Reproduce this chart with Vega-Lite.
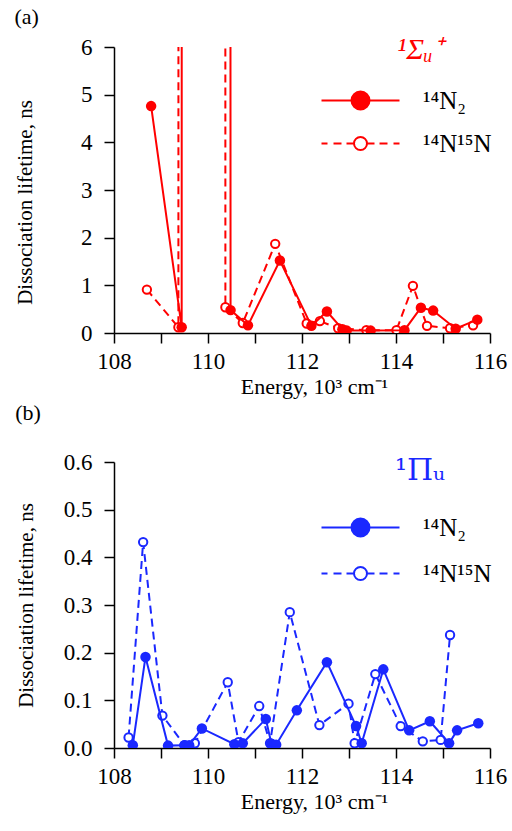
{
  "$schema": "https://vega.github.io/schema/vega-lite/v6.json",
  "padding": {"left": 14, "top": 6, "right": 5, "bottom": 5},
  "spacing": 5,
  "background": "white",
  "config": {
    "view": {"stroke": null},
    "font": "Liberation Serif",
    "axis": {
      "domainColor": "black", "domainWidth": 1.5, "tickColor": "black", "tickWidth": 1.5,
      "tickSize": 10, "labelFont": "Liberation Serif", "labelFontSize": 23, "labelColor": "black",
      "titleFont": "Liberation Serif", "titleFontSize": 21, "titleFontWeight": "normal", "titleColor": "black",
      "grid": false, "labelFlush": false, "labelOverlap": false, "labelPadding": 10
    },
    "axisX": {"titleFontSize": 22, "titlePadding": 3, "titleX": 200, "labelPadding": 7},
    "legend": {
      "labelFont": "Liberation Serif", "labelFontSize": 25, "labelColor": "black",
      "titleFont": "Liberation Serif", "titleFontWeight": "normal"
    },
    "title": {"font": "Liberation Serif", "fontSize": 22, "fontWeight": "normal", "color": "black", "anchor": "start", "frame": "bounds"}
  },
  "datasets": {
    "a": [
      {"E": 108.79, "tau": 4.76, "iso": "14N2"},
      {"E": 109.44, "tau": 0.12, "iso": "14N2"},
      {"E": 109.45, "tau": 60, "iso": "14N2"},
      {"E": 110.46, "tau": 60, "iso": "14N2"},
      {"E": 110.48, "tau": 0.48, "iso": "14N2"},
      {"E": 110.85, "tau": 0.16, "iso": "14N2"},
      {"E": 111.53, "tau": 1.52, "iso": "14N2"},
      {"E": 112.2, "tau": 0.15, "iso": "14N2"},
      {"E": 112.53, "tau": 0.45, "iso": "14N2"},
      {"E": 112.86, "tau": 0.08, "iso": "14N2"},
      {"E": 112.95, "tau": 0.05, "iso": "14N2"},
      {"E": 113.46, "tau": 0.05, "iso": "14N2"},
      {"E": 114.18, "tau": 0.06, "iso": "14N2"},
      {"E": 114.53, "tau": 0.53, "iso": "14N2"},
      {"E": 114.79, "tau": 0.47, "iso": "14N2"},
      {"E": 115.27, "tau": 0.09, "iso": "14N2"},
      {"E": 115.73, "tau": 0.28, "iso": "14N2"},
      {"E": 108.7, "tau": 0.91, "iso": "14N15N"},
      {"E": 109.37, "tau": 0.12, "iso": "14N15N"},
      {"E": 109.38, "tau": 60, "iso": "14N15N"},
      {"E": 110.36, "tau": 60, "iso": "14N15N"},
      {"E": 110.37, "tau": 0.54, "iso": "14N15N"},
      {"E": 110.74, "tau": 0.21, "iso": "14N15N"},
      {"E": 111.43, "tau": 1.87, "iso": "14N15N"},
      {"E": 112.1, "tau": 0.2, "iso": "14N15N"},
      {"E": 112.38, "tau": 0.25, "iso": "14N15N"},
      {"E": 112.77, "tau": 0.1, "iso": "14N15N"},
      {"E": 113.37, "tau": 0.06, "iso": "14N15N"},
      {"E": 114.01, "tau": 0.06, "iso": "14N15N"},
      {"E": 114.36, "tau": 0.99, "iso": "14N15N"},
      {"E": 114.66, "tau": 0.15, "iso": "14N15N"},
      {"E": 115.15, "tau": 0.1, "iso": "14N15N"},
      {"E": 115.64, "tau": 0.16, "iso": "14N15N"}
    ],
    "b": [
      {"E": 108.4, "tau": 0.006, "iso": "14N2"},
      {"E": 108.67, "tau": 0.191, "iso": "14N2"},
      {"E": 109.15, "tau": 0.005, "iso": "14N2"},
      {"E": 109.5, "tau": 0.006, "iso": "14N2"},
      {"E": 109.6, "tau": 0.006, "iso": "14N2"},
      {"E": 109.87, "tau": 0.041, "iso": "14N2"},
      {"E": 110.56, "tau": 0.008, "iso": "14N2"},
      {"E": 110.74, "tau": 0.01, "iso": "14N2"},
      {"E": 111.23, "tau": 0.061, "iso": "14N2"},
      {"E": 111.35, "tau": 0.009, "iso": "14N2"},
      {"E": 111.45, "tau": 0.007, "iso": "14N2"},
      {"E": 111.89, "tau": 0.079, "iso": "14N2"},
      {"E": 112.53, "tau": 0.18, "iso": "14N2"},
      {"E": 113.15, "tau": 0.046, "iso": "14N2"},
      {"E": 113.27, "tau": 0.01, "iso": "14N2"},
      {"E": 113.73, "tau": 0.165, "iso": "14N2"},
      {"E": 114.28, "tau": 0.037, "iso": "14N2"},
      {"E": 114.72, "tau": 0.056, "iso": "14N2"},
      {"E": 115.13, "tau": 0.01, "iso": "14N2"},
      {"E": 115.3, "tau": 0.037, "iso": "14N2"},
      {"E": 115.75, "tau": 0.052, "iso": "14N2"},
      {"E": 108.31, "tau": 0.022, "iso": "14N15N"},
      {"E": 108.62, "tau": 0.432, "iso": "14N15N"},
      {"E": 109.03, "tau": 0.068, "iso": "14N15N"},
      {"E": 109.5, "tau": 0.006, "iso": "14N15N"},
      {"E": 109.72, "tau": 0.01, "iso": "14N15N"},
      {"E": 110.42, "tau": 0.138, "iso": "14N15N"},
      {"E": 110.65, "tau": 0.012, "iso": "14N15N"},
      {"E": 111.09, "tau": 0.088, "iso": "14N15N"},
      {"E": 111.32, "tau": 0.01, "iso": "14N15N"},
      {"E": 111.74, "tau": 0.285, "iso": "14N15N"},
      {"E": 112.37, "tau": 0.048, "iso": "14N15N"},
      {"E": 112.99, "tau": 0.093, "iso": "14N15N"},
      {"E": 113.12, "tau": 0.01, "iso": "14N15N"},
      {"E": 113.56, "tau": 0.155, "iso": "14N15N"},
      {"E": 114.1, "tau": 0.046, "iso": "14N15N"},
      {"E": 114.57, "tau": 0.014, "iso": "14N15N"},
      {"E": 114.95, "tau": 0.017, "iso": "14N15N"},
      {"E": 115.15, "tau": 0.237, "iso": "14N15N"}
    ]
  },
  "resolve": {"scale": {"shape": "independent", "fill": "independent", "stroke": "independent"}, "legend": {"shape": "independent", "fill": "independent", "stroke": "independent"}},
  "vconcat": [
    {
      "width": 376, "height": 286,
      "title": {"text": "(a)", "offset": 6},
      "data": {"name": "a"},
      "encoding": {
        "x": {"field": "E", "type": "quantitative", "scale": {"domain": [108, 116], "nice": false, "zero": false},
              "axis": {"values": [108, 109, 110, 111, 112, 113, 114, 115, 116], "labelExpr": "datum.value % 2 == 0 ? datum.label : ''", "format": "d", "title": "Energy, 10³ cm⁻¹"}},
        "y": {"field": "tau", "type": "quantitative", "scale": {"domain": [0, 6], "nice": false},
              "axis": {"values": [0, 1, 2, 3, 4, 5, 6], "format": "d", "title": "Dissociation lifetime, ns", "titlePadding": 45, "labelPadding": 12, "titleY": 155}}
      },
      "layer": [
        {"transform": [{"filter": "datum.iso == '14N15N'"}], "mark": {"type": "line", "clip": true, "color": "#ff0000", "strokeWidth": 2, "strokeDash": [8, 5]}},
        {"transform": [{"filter": "datum.iso == '14N15N'"}], "mark": {"type": "point", "clip": true, "shape": "circle", "size": 70, "filled": true, "fill": "white", "stroke": "#ff0000", "strokeWidth": 2, "opacity": 1}},
        {"transform": [{"filter": "datum.iso == '14N2'"}], "mark": {"type": "line", "clip": true, "color": "#ff0000", "strokeWidth": 2}},
        {"transform": [{"filter": "datum.iso == '14N2'"}], "mark": {"type": "point", "clip": true, "shape": "circle", "size": 110, "filled": true, "color": "#ff0000", "opacity": 1}},
        {"transform": [{"filter": "datum.tau < 0"}], "mark": {"type": "point", "filled": false, "strokeWidth": 2, "opacity": 1},
         "encoding": {
           "shape": {"field": "iso", "type": "nominal",
             "scale": {"domain": ["14N2", "14N15N"], "range": ["M-7.8,0H7.8M-1.8,0A1.8,1.8,0,1,1,1.8,0A1.8,1.8,0,1,1,-1.8,0Z", "M-7.8,0H-6.6M-5.4,0H-3.8M-2.8,0H-1.4M1.4,0H2.8M3.8,0H5.4M6.6,0H7.8M-1.3,0A1.3,1.3,0,1,1,1.3,0A1.3,1.3,0,1,1,-1.3,0Z"]},
             "legend": {"orient": "none", "legendX": 234, "legendY": -12, "title": "\u00a0\u00a0\u00a0¹Σᵤ⁺", "titleColor": "#ff0000", "titleFontSize": 30, "titleFontStyle": "italic", "titleAnchor": "middle", "titleAlign": "center", "titlePadding": 23,
               "symbolSize": 100, "symbolStrokeWidth": 2, "symbolOpacity": 1, "labelOffset": 50, "rowPadding": 17,
               "labelExpr": "datum.label == '14N2' ? '¹⁴N₂' : '¹⁴N¹⁵N'"}},
           "fill": {"field": "iso", "type": "nominal", "scale": {"domain": ["14N2", "14N15N"], "range": ["#ff0000", "#ffffff"]}},
           "stroke": {"field": "iso", "type": "nominal", "scale": {"domain": ["14N2", "14N15N"], "range": ["#ff0000", "#ff0000"]}}
         }}
      ]
    },
    {
      "width": 376, "height": 286,
      "title": {"text": "(b)", "offset": 26},
      "data": {"name": "b"},
      "encoding": {
        "x": {"field": "E", "type": "quantitative", "scale": {"domain": [108, 116], "nice": false, "zero": false},
              "axis": {"values": [108, 109, 110, 111, 112, 113, 114, 115, 116], "labelExpr": "datum.value % 2 == 0 ? datum.label : ''", "format": "d", "title": "Energy, 10³ cm⁻¹"}},
        "y": {"field": "tau", "type": "quantitative", "scale": {"domain": [0, 0.6], "nice": false},
              "axis": {"values": [0, 0.1, 0.2, 0.3, 0.4, 0.5, 0.6], "format": ".1f", "title": "Dissociation lifetime, ns", "titlePadding": 27, "labelPadding": 12}}
      },
      "layer": [
        {"transform": [{"filter": "datum.iso == '14N15N'"}], "mark": {"type": "line", "clip": true, "color": "#1a28ff", "strokeWidth": 2, "strokeDash": [8, 5]}},
        {"transform": [{"filter": "datum.iso == '14N15N'"}], "mark": {"type": "point", "clip": true, "shape": "circle", "size": 70, "filled": true, "fill": "white", "stroke": "#1a28ff", "strokeWidth": 2, "opacity": 1}},
        {"transform": [{"filter": "datum.iso == '14N2'"}], "mark": {"type": "line", "clip": true, "color": "#1a28ff", "strokeWidth": 2}},
        {"transform": [{"filter": "datum.iso == '14N2'"}], "mark": {"type": "point", "clip": true, "shape": "circle", "size": 110, "filled": true, "color": "#1a28ff", "opacity": 1}},
        {"transform": [{"filter": "datum.tau < 0"}], "mark": {"type": "point", "filled": false, "strokeWidth": 2, "opacity": 1},
         "encoding": {
           "shape": {"field": "iso", "type": "nominal",
             "scale": {"domain": ["14N2", "14N15N"], "range": ["M-7.8,0H7.8M-1.8,0A1.8,1.8,0,1,1,1.8,0A1.8,1.8,0,1,1,-1.8,0Z", "M-7.8,0H-6.6M-5.4,0H-3.8M-2.8,0H-1.4M1.4,0H2.8M3.8,0H5.4M6.6,0H7.8M-1.3,0A1.3,1.3,0,1,1,1.3,0A1.3,1.3,0,1,1,-1.3,0Z"]},
             "legend": {"orient": "none", "legendX": 234, "legendY": -6, "title": "\u00a0\u00a0\u00a0¹Πᵤ", "titleColor": "#1a28ff", "titleFontSize": 30, "titleFont": "DejaVu Serif", "titleAnchor": "middle", "titleAlign": "center", "titlePadding": 29,
               "symbolSize": 100, "symbolStrokeWidth": 2, "symbolOpacity": 1, "labelOffset": 50, "rowPadding": 20,
               "labelExpr": "datum.label == '14N2' ? '¹⁴N₂' : '¹⁴N¹⁵N'"}},
           "fill": {"field": "iso", "type": "nominal", "scale": {"domain": ["14N2", "14N15N"], "range": ["#1a28ff", "#ffffff"]}},
           "stroke": {"field": "iso", "type": "nominal", "scale": {"domain": ["14N2", "14N15N"], "range": ["#1a28ff", "#1a28ff"]}}
         }}
      ]
    }
  ]
}
